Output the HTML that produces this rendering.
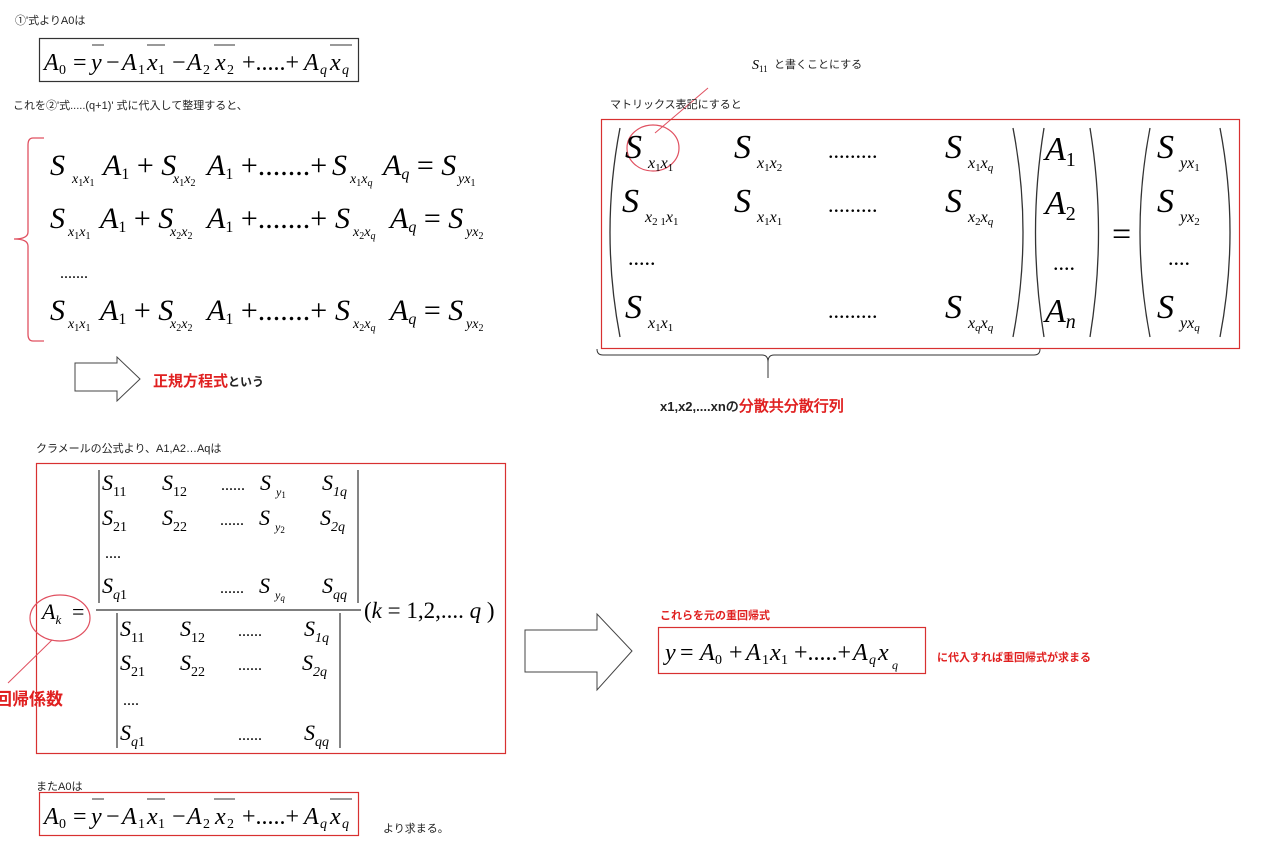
<!DOCTYPE html>
<html><head><meta charset="utf-8"><style>
html,body{margin:0;padding:0;background:#fff;}
svg{display:block;}
.j{font-family:"Liberation Sans","Noto Sans CJK JP",sans-serif;font-size:11px;fill:#222;font-style:normal;}
.m{font-family:"Liberation Serif",serif;font-style:italic;}
.r{font-family:"Liberation Serif",serif;font-style:normal;}
.red{fill:#e02020;font-weight:bold;font-family:"Liberation Sans","Noto Sans CJK JP",sans-serif;font-style:normal;}
</style></head><body>
<svg width="1261" height="848" viewBox="0 0 1261 848" xmlns="http://www.w3.org/2000/svg">
<!-- top A0 -->
<text class="j" x="15" y="24">①'式よりA0は</text>
<rect x="39.5" y="38.5" width="319" height="43" fill="none" stroke="#333" stroke-width="1.2"/>
<text class="m" y="70" font-size="24"><tspan x="44">A</tspan><tspan x="59" dy="4" class="r" font-size="14">0</tspan><tspan x="73" dy="-4" class="r">=</tspan><tspan x="91">y</tspan><tspan x="106" class="r">−</tspan><tspan x="122">A</tspan><tspan x="138" dy="4" class="r" font-size="14">1</tspan><tspan x="147" dy="-4">x</tspan><tspan x="158" dy="4" class="r" font-size="14">1</tspan><tspan x="172" dy="-4" class="r">−</tspan><tspan x="187">A</tspan><tspan x="203" dy="4" class="r" font-size="14">2</tspan><tspan x="215" dy="-4">x</tspan><tspan x="227" dy="4" class="r" font-size="14">2</tspan><tspan x="242" dy="-4" class="r">+.....+</tspan><tspan x="304">A</tspan><tspan x="320" dy="4" font-size="14">q</tspan><tspan x="330" dy="-4">x</tspan><tspan x="342" dy="4" font-size="14">q</tspan></text>
<g stroke="#333" stroke-width="1"><line x1="92" y1="45" x2="104" y2="45"/><line x1="147" y1="45" x2="165" y2="45"/><line x1="214" y1="45" x2="235" y2="45"/><line x1="330" y1="45" x2="352" y2="45"/></g>
<text class="j" x="13" y="109">これを②'式.....(q+1)' 式に代入して整理すると、</text>

<!-- brace -->
<path d="M44,138 L33,138 Q28,138 28,145 L28,232 Q28,239 14,239 Q28,239 28,246 L28,334 Q28,341 33,341 L44,341" fill="none" stroke="#e05060" stroke-width="1.3"/>

<!-- equations -->
<g font-size="30" class="m">
<text x="50" y="175">S</text><text x="72" y="183" font-size="14">x<tspan dy="3" font-size="10" class="r">1</tspan><tspan dy="-3">x</tspan><tspan dy="3" font-size="10" class="r">1</tspan></text>
<text x="103" y="175">A<tspan font-size="16" dy="4" class="r">1</tspan><tspan dy="-4" class="r"> + </tspan>S</text>
<text x="173" y="183" font-size="14">x<tspan dy="3" font-size="10" class="r">1</tspan><tspan dy="-3">x</tspan><tspan dy="3" font-size="10" class="r">2</tspan></text>
<text x="207" y="175">A<tspan font-size="16" dy="4" class="r">1</tspan><tspan dy="-4" class="r"> +.......+</tspan></text>
<text x="332" y="175">S</text><text x="350" y="183" font-size="14">x<tspan dy="3" font-size="10" class="r">1</tspan><tspan dy="-3">x</tspan><tspan dy="3" font-size="10">q</tspan></text>
<text x="383" y="175">A<tspan font-size="16" dy="4">q</tspan><tspan dy="-4" class="r"> = </tspan>S</text>
<text x="458" y="183" font-size="14">yx<tspan dy="3" font-size="10" class="r">1</tspan></text>

<text x="50" y="228">S</text><text x="68" y="236" font-size="14">x<tspan dy="3" font-size="10" class="r">1</tspan><tspan dy="-3">x</tspan><tspan dy="3" font-size="10" class="r">1</tspan></text>
<text x="100" y="228">A<tspan font-size="16" dy="4" class="r">1</tspan><tspan dy="-4" class="r"> + </tspan>S</text>
<text x="170" y="236" font-size="14">x<tspan dy="3" font-size="10" class="r">2</tspan><tspan dy="-3">x</tspan><tspan dy="3" font-size="10" class="r">2</tspan></text>
<text x="207" y="228">A<tspan font-size="16" dy="4" class="r">1</tspan><tspan dy="-4" class="r"> +.......+</tspan></text>
<text x="335" y="228">S</text><text x="353" y="236" font-size="14">x<tspan dy="3" font-size="10" class="r">2</tspan><tspan dy="-3">x</tspan><tspan dy="3" font-size="10">q</tspan></text>
<text x="390" y="228">A<tspan font-size="16" dy="4">q</tspan><tspan dy="-4" class="r"> = </tspan>S</text>
<text x="466" y="236" font-size="14">yx<tspan dy="3" font-size="10" class="r">2</tspan></text>

<text x="60" y="278" class="r" font-size="16">.......</text>

<text x="50" y="320">S</text><text x="68" y="328" font-size="14">x<tspan dy="3" font-size="10" class="r">1</tspan><tspan dy="-3">x</tspan><tspan dy="3" font-size="10" class="r">1</tspan></text>
<text x="100" y="320">A<tspan font-size="16" dy="4" class="r">1</tspan><tspan dy="-4" class="r"> + </tspan>S</text>
<text x="170" y="328" font-size="14">x<tspan dy="3" font-size="10" class="r">2</tspan><tspan dy="-3">x</tspan><tspan dy="3" font-size="10" class="r">2</tspan></text>
<text x="207" y="320">A<tspan font-size="16" dy="4" class="r">1</tspan><tspan dy="-4" class="r"> +.......+</tspan></text>
<text x="335" y="320">S</text><text x="353" y="328" font-size="14">x<tspan dy="3" font-size="10" class="r">2</tspan><tspan dy="-3">x</tspan><tspan dy="3" font-size="10">q</tspan></text>
<text x="390" y="320">A<tspan font-size="16" dy="4">q</tspan><tspan dy="-4" class="r"> = </tspan>S</text>
<text x="466" y="328" font-size="14">yx<tspan dy="3" font-size="10" class="r">2</tspan></text>
</g>

<!-- arrow 1 -->
<path d="M75,363 L117,363 L117,357 L140,379 L117,401 L117,391 L75,391 Z" fill="#fff" stroke="#444" stroke-width="1"/>
<text class="red" x="153" y="386" font-size="15">正規方程式<tspan fill="#222" font-size="12">という</tspan></text>

<!-- matrix region -->
<text x="752" y="69" class="m" font-size="14">S<tspan font-size="9" dy="3" class="r">11</tspan></text>
<text class="j" x="774" y="68">と書くことにする</text>
<line x1="708" y1="88" x2="655" y2="133" stroke="#e05060" stroke-width="1"/>
<text class="j" x="610" y="108">マトリックス表記にすると</text>
<rect x="601.5" y="119.5" width="638" height="229" fill="none" stroke="#d83030" stroke-width="1.2"/>
<g fill="none" stroke="#333" stroke-width="1.3">
<path d="M620,128 Q600,232 620,337"/>
<path d="M1013,128 Q1033,232 1013,337"/>
<path d="M1044,128 Q1027,232 1044,337"/>
<path d="M1090,128 Q1107,232 1090,337"/>
<path d="M1150,128 Q1130,232 1150,337"/>
<path d="M1220,128 Q1240,232 1220,337"/>
</g>
<ellipse cx="653" cy="148" rx="26" ry="23" fill="none" stroke="#e05060" stroke-width="1.2"/>
<g class="m" font-size="34">
<text x="625" y="158">S</text><text x="648" y="168" font-size="16">x<tspan dy="3" font-size="11" class="r">1</tspan><tspan dy="-3">x</tspan><tspan dy="3" font-size="11" class="r">1</tspan></text>
<text x="734" y="158">S</text><text x="757" y="168" font-size="16">x<tspan dy="3" font-size="11" class="r">1</tspan><tspan dy="-3">x</tspan><tspan dy="3" font-size="11" class="r">2</tspan></text>
<text x="828" y="158" class="r" font-size="22">.........</text>
<text x="945" y="158">S</text><text x="968" y="168" font-size="16">x<tspan dy="3" font-size="11" class="r">1</tspan><tspan dy="-3">x</tspan><tspan dy="3" font-size="11">q</tspan></text>

<text x="622" y="212">S</text><text x="645" y="222" font-size="16">x<tspan dy="3" font-size="11" class="r">2 1</tspan><tspan dy="-3">x</tspan><tspan dy="3" font-size="11" class="r">1</tspan></text>
<text x="734" y="212">S</text><text x="757" y="222" font-size="16">x<tspan dy="3" font-size="11" class="r">1</tspan><tspan dy="-3">x</tspan><tspan dy="3" font-size="11" class="r">1</tspan></text>
<text x="828" y="212" class="r" font-size="22">.........</text>
<text x="945" y="212">S</text><text x="968" y="222" font-size="16">x<tspan dy="3" font-size="11" class="r">2</tspan><tspan dy="-3">x</tspan><tspan dy="3" font-size="11">q</tspan></text>

<text x="628" y="265" class="r" font-size="22">.....</text>

<text x="625" y="318">S</text><text x="648" y="328" font-size="16">x<tspan dy="3" font-size="11" class="r">1</tspan><tspan dy="-3">x</tspan><tspan dy="3" font-size="11" class="r">1</tspan></text>
<text x="828" y="318" class="r" font-size="22">.........</text>
<text x="945" y="318">S</text><text x="968" y="328" font-size="16">x<tspan dy="3" font-size="11">q</tspan><tspan dy="-3">x</tspan><tspan dy="3" font-size="11">q</tspan></text>

<text x="1045" y="160">A<tspan class="r" font-size="20" dy="6">1</tspan></text>
<text x="1045" y="214">A<tspan class="r" font-size="20" dy="6">2</tspan></text>
<text x="1053" y="270" class="r" font-size="22">....</text>
<text x="1045" y="322">A<tspan font-size="20" dy="6">n</tspan></text>
<text x="1112" y="245" class="r">=</text>
<text x="1157" y="158">S</text><text x="1180" y="168" font-size="16">yx<tspan dy="3" font-size="11" class="r">1</tspan></text>
<text x="1157" y="212">S</text><text x="1180" y="222" font-size="16">yx<tspan dy="3" font-size="11" class="r">2</tspan></text>
<text x="1168" y="265" class="r" font-size="22">....</text>
<text x="1157" y="318">S</text><text x="1180" y="328" font-size="16">yx<tspan dy="3" font-size="11">q</tspan></text>
</g>
<path d="M597,349 Q597,355 603,355 L762,355 Q768,355 768,362 L768,378 M768,362 Q768,355 774,355 L1034,355 Q1040,355 1040,349" fill="none" stroke="#333" stroke-width="1"/>
<text x="660" y="411" font-family="Liberation Sans,sans-serif" font-weight="bold" font-size="13" fill="#222">x1,x2,....xnの<tspan fill="#e02020" font-size="15">分散共分散行列</tspan></text>

<!-- Cramer -->
<text class="j" x="36" y="452">クラメールの公式より、A1,A2…Aqは</text>
<rect x="36.5" y="463.5" width="469" height="290" fill="none" stroke="#d83030" stroke-width="1.2"/>
<g stroke="#333" stroke-width="1.2">
<line x1="99" y1="470" x2="99" y2="603"/><line x1="358" y1="470" x2="358" y2="603"/>
<line x1="96" y1="610" x2="361" y2="610"/>
<line x1="117" y1="613" x2="117" y2="748"/><line x1="340" y1="613" x2="340" y2="748"/>
</g>
<g class="m" font-size="22">
<text x="102" y="490">S<tspan class="r" font-size="14" dy="6">11</tspan></text>
<text x="162" y="490">S<tspan class="r" font-size="14" dy="6">12</tspan></text>
<text x="221" y="490" class="r" font-size="16">......</text><text x="260" y="490">S</text><text x="276" y="496" font-size="12">y<tspan class="r" font-size="9" dy="2">1</tspan></text>
<text x="322" y="490">S<tspan font-size="14" dy="6">1q</tspan></text>
<text x="102" y="525">S<tspan class="r" font-size="14" dy="6">21</tspan></text>
<text x="162" y="525">S<tspan class="r" font-size="14" dy="6">22</tspan></text>
<text x="220" y="525" class="r" font-size="16">......</text><text x="259" y="525">S</text><text x="275" y="531" font-size="12">y<tspan class="r" font-size="9" dy="2">2</tspan></text>
<text x="320" y="525">S<tspan font-size="14" dy="6">2q</tspan></text>
<text x="105" y="558" class="r" font-size="16">....</text>
<text x="102" y="593">S<tspan font-size="14" dy="6">q</tspan><tspan class="r" font-size="14">1</tspan></text>
<text x="220" y="593" class="r" font-size="16">......</text><text x="259" y="593">S</text><text x="275" y="599" font-size="12">y<tspan font-size="9" dy="2">q</tspan></text>
<text x="322" y="593">S<tspan font-size="14" dy="6">qq</tspan></text>

<text x="120" y="636">S<tspan class="r" font-size="14" dy="6">11</tspan></text>
<text x="180" y="636">S<tspan class="r" font-size="14" dy="6">12</tspan></text>
<text x="238" y="636" class="r" font-size="16">......</text>
<text x="304" y="636">S<tspan font-size="14" dy="6">1q</tspan></text>
<text x="120" y="670">S<tspan class="r" font-size="14" dy="6">21</tspan></text>
<text x="180" y="670">S<tspan class="r" font-size="14" dy="6">22</tspan></text>
<text x="238" y="670" class="r" font-size="16">......</text>
<text x="302" y="670">S<tspan font-size="14" dy="6">2q</tspan></text>
<text x="123" y="705" class="r" font-size="16">....</text>
<text x="120" y="740">S<tspan font-size="14" dy="6">q</tspan><tspan class="r" font-size="14">1</tspan></text>
<text x="238" y="740" class="r" font-size="16">......</text>
<text x="304" y="740">S<tspan font-size="14" dy="6">qq</tspan></text>
<text x="42" y="619" font-size="22">A<tspan font-size="13" dy="5">k</tspan><tspan class="r" dy="-5" x="72">=</tspan></text>
<text x="364" y="618" font-size="23" class="r">(<tspan class="m">k</tspan> = 1,2,.... <tspan class="m">q</tspan> )</text>
</g>
<ellipse cx="60" cy="618" rx="30" ry="23" fill="none" stroke="#e05060" stroke-width="1.2"/>
<line x1="52" y1="640" x2="8" y2="683" stroke="#e05060" stroke-width="1"/>
<text class="red" x="-5" y="705" font-size="17">回帰係数</text>

<!-- big arrow -->
<path d="M525,630 L597,630 L597,614 L632,651 L597,690 L597,672 L525,672 Z" fill="#fff" stroke="#444" stroke-width="1"/>
<text class="red" x="660" y="619" font-size="11">これらを元の重回帰式</text>
<rect x="658.5" y="627.5" width="267" height="46" fill="none" stroke="#d83030" stroke-width="1.2"/>
<text y="660" class="m" font-size="24"><tspan x="665">y</tspan><tspan x="680" class="r">=</tspan><tspan x="700">A</tspan><tspan x="715" dy="4" class="r" font-size="14">0</tspan><tspan x="729" dy="-4" class="r">+</tspan><tspan x="746">A</tspan><tspan x="762" dy="4" class="r" font-size="14">1</tspan><tspan x="770" dy="-4">x</tspan><tspan x="781" dy="4" class="r" font-size="14">1</tspan><tspan x="794" dy="-4" class="r">+.....+</tspan><tspan x="853">A</tspan><tspan x="869" dy="4" font-size="14">q</tspan><tspan x="878" dy="-4">x</tspan><tspan x="892" dy="9" font-size="12">q</tspan></text>
<text class="red" x="937" y="661" font-size="11">に代入すれば重回帰式が求まる</text>

<!-- bottom A0 -->
<text class="j" x="36" y="790">またA0は</text>
<rect x="39.5" y="792.5" width="319" height="43" fill="none" stroke="#d83030" stroke-width="1.2"/>
<text class="m" y="824" font-size="24"><tspan x="44">A</tspan><tspan x="59" dy="4" class="r" font-size="14">0</tspan><tspan x="73" dy="-4" class="r">=</tspan><tspan x="91">y</tspan><tspan x="106" class="r">−</tspan><tspan x="122">A</tspan><tspan x="138" dy="4" class="r" font-size="14">1</tspan><tspan x="147" dy="-4">x</tspan><tspan x="158" dy="4" class="r" font-size="14">1</tspan><tspan x="172" dy="-4" class="r">−</tspan><tspan x="187">A</tspan><tspan x="203" dy="4" class="r" font-size="14">2</tspan><tspan x="215" dy="-4">x</tspan><tspan x="227" dy="4" class="r" font-size="14">2</tspan><tspan x="242" dy="-4" class="r">+.....+</tspan><tspan x="304">A</tspan><tspan x="320" dy="4" font-size="14">q</tspan><tspan x="330" dy="-4">x</tspan><tspan x="342" dy="4" font-size="14">q</tspan></text>
<g stroke="#333" stroke-width="1"><line x1="92" y1="799" x2="104" y2="799"/><line x1="147" y1="799" x2="165" y2="799"/><line x1="214" y1="799" x2="235" y2="799"/><line x1="330" y1="799" x2="352" y2="799"/></g>
<text class="j" x="383" y="832">より求まる。</text>
</svg>
</body></html>
